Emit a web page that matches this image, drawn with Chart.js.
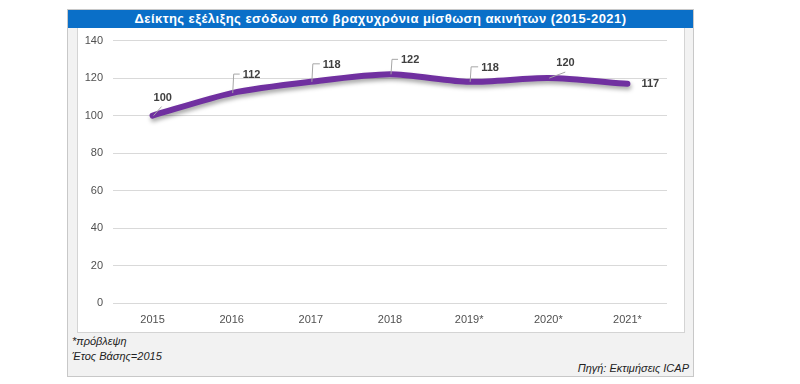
<!DOCTYPE html>
<html>
<head>
<meta charset="utf-8">
<script src="https://cdn.jsdelivr.net/npm/chart.js@4"></script>
<style>
  body { margin: 0; background: #fff; font-family: "Liberation Sans", sans-serif; }
  #frame { position: absolute; left: 67px; top: 9px; width: 625px; height: 366px; border: 1px solid #c8c8c8; background: #f2f2f2; }
  #title { position: absolute; left: 0; top: 0; width: 625px; height: 18px; background: #0a6fc8; color: #fff;
           font: bold 13px "Liberation Sans", sans-serif; text-align: center; line-height: 18px; letter-spacing: 0.45px; }
  #plot { position: absolute; left: 9px; top: 18px; width: 606px; height: 304px; background: #fff; border: 1px solid #d4d4d4; border-top: none; }
  #chart { position: absolute; left: 0; top: -4px; }
  .note { position: absolute; font: italic 11px "Liberation Sans", sans-serif; color: #222; }
</style>
</head>
<body>
<div id="frame">
  <div id="plot"><canvas id="chart" width="606" height="304"></canvas></div>
  <div id="title">Δείκτης εξέλιξης εσόδων από βραχυχρόνια μίσθωση ακινήτων (2015-2021)</div>
  <div class="note" style="left:4px; top:325px;">*πρόβλεψη</div>
  <div class="note" style="left:4px; top:340px;">Έτος Βάσης=2015</div>
  <div class="note" style="right:4px; top:352px;">Πηγή: Εκτιμήσεις ICAP</div>
</div>
<script>
// chart data
const years = ['2015', '2016', '2017', '2018', '2019*', '2020*', '2021*'];
const indexValues = [100, 112, 118, 122, 118, 120, 117];
const yTicks = [0, 20, 40, 60, 80, 100, 120, 140];

// label placement relative to each point: dx/dy of text, leader style
const labelPos = [
  {dx: 1, dy: -18, leader: 'diag', lx: 9, ly: -9},
  {dx: 11, dy: -18, leader: 'hook'},
  {dx: 12, dy: -17, leader: 'hook'},
  {dx: 11, dy: -14, leader: 'hook'},
  {dx: 12, dy: -14, leader: 'hook'},
  {dx: 8, dy: -15, leader: 'diag', lx: 17, ly: -6},
  {dx: 14, dy: 0, leader: 'none'}
];

const shadowPlugin = {
  id: 'lineShadow',
  beforeDatasetsDraw(chart) {
    const c = chart.ctx;
    c.save();
    c.shadowColor = 'rgba(0,0,0,0.35)';
    c.shadowBlur = 4;
    c.shadowOffsetX = 1;
    c.shadowOffsetY = 3;
  },
  afterDatasetsDraw(chart) {
    chart.ctx.restore();
  }
};

const labelPlugin = {
  id: 'valueLabels',
  afterDatasetsDraw(chart) {
    const c = chart.ctx;
    const meta = chart.getDatasetMeta(0);
    c.save();
    c.font = 'bold 11px "Liberation Sans", sans-serif';
    c.textBaseline = 'middle';
    c.textAlign = 'left';
    meta.data.forEach((pt, i) => {
      const p = labelPos[i];
      const x = pt.x, y = pt.y;
      c.strokeStyle = '#a6a6a6';
      c.lineWidth = 1;
      if (p.leader === 'hook') {
        c.beginPath();
        c.moveTo(x + 1, y);
        c.lineTo(x + 2, y + p.dy - 1);
        c.lineTo(x + p.dx - 3, y + p.dy - 1);
        c.stroke();
      } else if (p.leader === 'diag') {
        c.beginPath();
        c.moveTo(x + 1, y);
        c.lineTo(x + p.lx, y + p.ly);
        c.stroke();
      }
      c.fillStyle = '#404040';
      c.fillText(String(indexValues[i]), x + p.dx, y + p.dy);
    });
    c.restore();
  }
};

new Chart(document.getElementById('chart'), {
  type: 'line',
  data: {
    labels: years,
    datasets: [{
      data: indexValues,
      borderColor: '#7030a0',
      borderWidth: 6,
      borderCapStyle: 'round',
      borderJoinStyle: 'round',
      pointRadius: 0,
      tension: 0.25,
      fill: false
    }]
  },
  options: {
    responsive: false,
    animation: false,
    layout: {padding: {top: 5, right: 17, left: 0, bottom: 0}},
    plugins: {legend: {display: false}, tooltip: {enabled: false}},
    scales: {
      x: {
        offset: true,
        grid: {display: false, drawTicks: false},
        border: {display: false},
        ticks: {color: '#505050', padding: 10, font: {size: 11}},
        afterFit(scale) { scale.height = 25; }
      },
      y: {
        min: 0,
        max: 140,
        afterBuildTicks(scale) { scale.ticks = yTicks.map(v => ({value: v})); },
        grid: {color: '#d9d9d9', drawTicks: false},
        border: {display: false},
        ticks: {color: '#505050', padding: 10, font: {size: 11}},
        afterFit(scale) { scale.width = 35; }
      }
    }
  },
  plugins: [shadowPlugin, labelPlugin]
});
</script>
</body>
</html>
